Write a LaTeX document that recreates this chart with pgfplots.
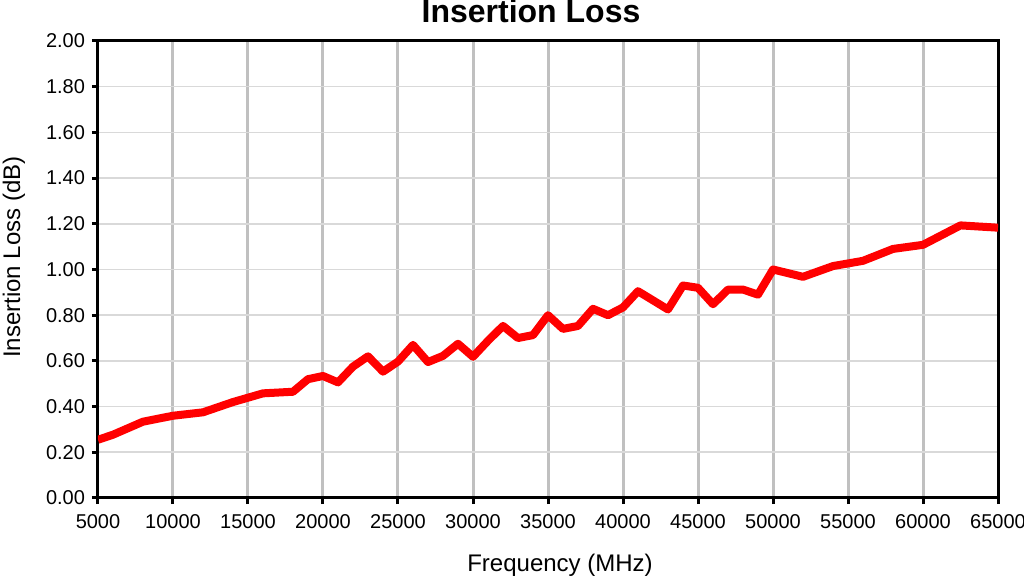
\documentclass[border=0pt]{standalone}
\usepackage{fontspec}
\setmainfont{Liberation Sans}
\usepackage{pgfplots}
\pgfplotsset{compat=1.18}
\definecolor{vgrid}{HTML}{C0C0C0}
\definecolor{hgrid}{HTML}{D9D9D9}
\begin{document}
\begin{tikzpicture}
\begin{axis}[
  at={(0,0)}, anchor=south west,
  scale only axis, width=450bp, height=228.5bp,
  xmin=5000, xmax=65000, ymin=0, ymax=2,
  xtick={5000,10000,...,65000},
  ytick={0,0.2,...,2.01},
  scaled x ticks=false,
  xtick pos=bottom, ytick pos=left,
  tick align=outside,
  major tick length=3bp,
  every tick/.style={black, line width=1.5bp},
  axis line style={black, line width=1.5bp},
  xmajorgrids, ymajorgrids,
  x grid style={vgrid, line width=1.5bp},
  y grid style={hgrid, line width=0.8bp},
  tick label style={font=\fontsize{10bp}{12bp}\selectfont},
  /pgf/number format/assume math mode=true,
  xticklabel style={/pgf/number format/fixed, /pgf/number format/precision=0, /pgf/number format/1000 sep={}, yshift=-1.5bp},
  yticklabel style={/pgf/number format/fixed, /pgf/number format/fixed zerofill, /pgf/number format/precision=2},
  clip=true,
]
\addplot[red, line width=4bp, line join=round, line cap=butt] coordinates {
(5000,0.255) (6000,0.277) (8000,0.334) (10000,0.360) (12000,0.375)
(14000,0.420) (16000,0.458) (18000,0.465) (19000,0.520) (20000,0.534)
(21000,0.506) (22000,0.575) (23000,0.620) (24000,0.553) (25000,0.597)
(26000,0.670) (27000,0.595) (28000,0.622) (29000,0.675) (30000,0.618)
(31000,0.688) (32000,0.753) (33000,0.700) (34000,0.713) (35000,0.800)
(36000,0.740) (37000,0.753) (38000,0.828) (39000,0.800) (40000,0.834)
(41000,0.905) (43000,0.825) (44000,0.930) (45000,0.920) (46000,0.848)
(47000,0.912) (48000,0.912) (49000,0.890) (50000,1.000) (52000,0.968)
(54000,1.015) (56000,1.038) (58000,1.090) (60000,1.108) (62500,1.193)
(65000,1.183)
};
\end{axis}
\node[anchor=base, font=\bfseries\fontsize{16bp}{19bp}\selectfont, inner sep=0pt] at (216.5bp,237.5bp) {Insertion Loss};
\node[anchor=base, font=\fontsize{12bp}{14bp}\selectfont, inner sep=0pt] at (231bp,-36.8bp) {Frequency (MHz)};
\node[anchor=base, rotate=90, font=\fontsize{12bp}{14bp}\selectfont, inner sep=0pt] at (-39bp,120.5bp) {Insertion Loss (dB)};
\pgfresetboundingbox
\path[use as bounding box] (-49bp,-39.5bp) rectangle (463bp,249bp);
\end{tikzpicture}
\end{document}
